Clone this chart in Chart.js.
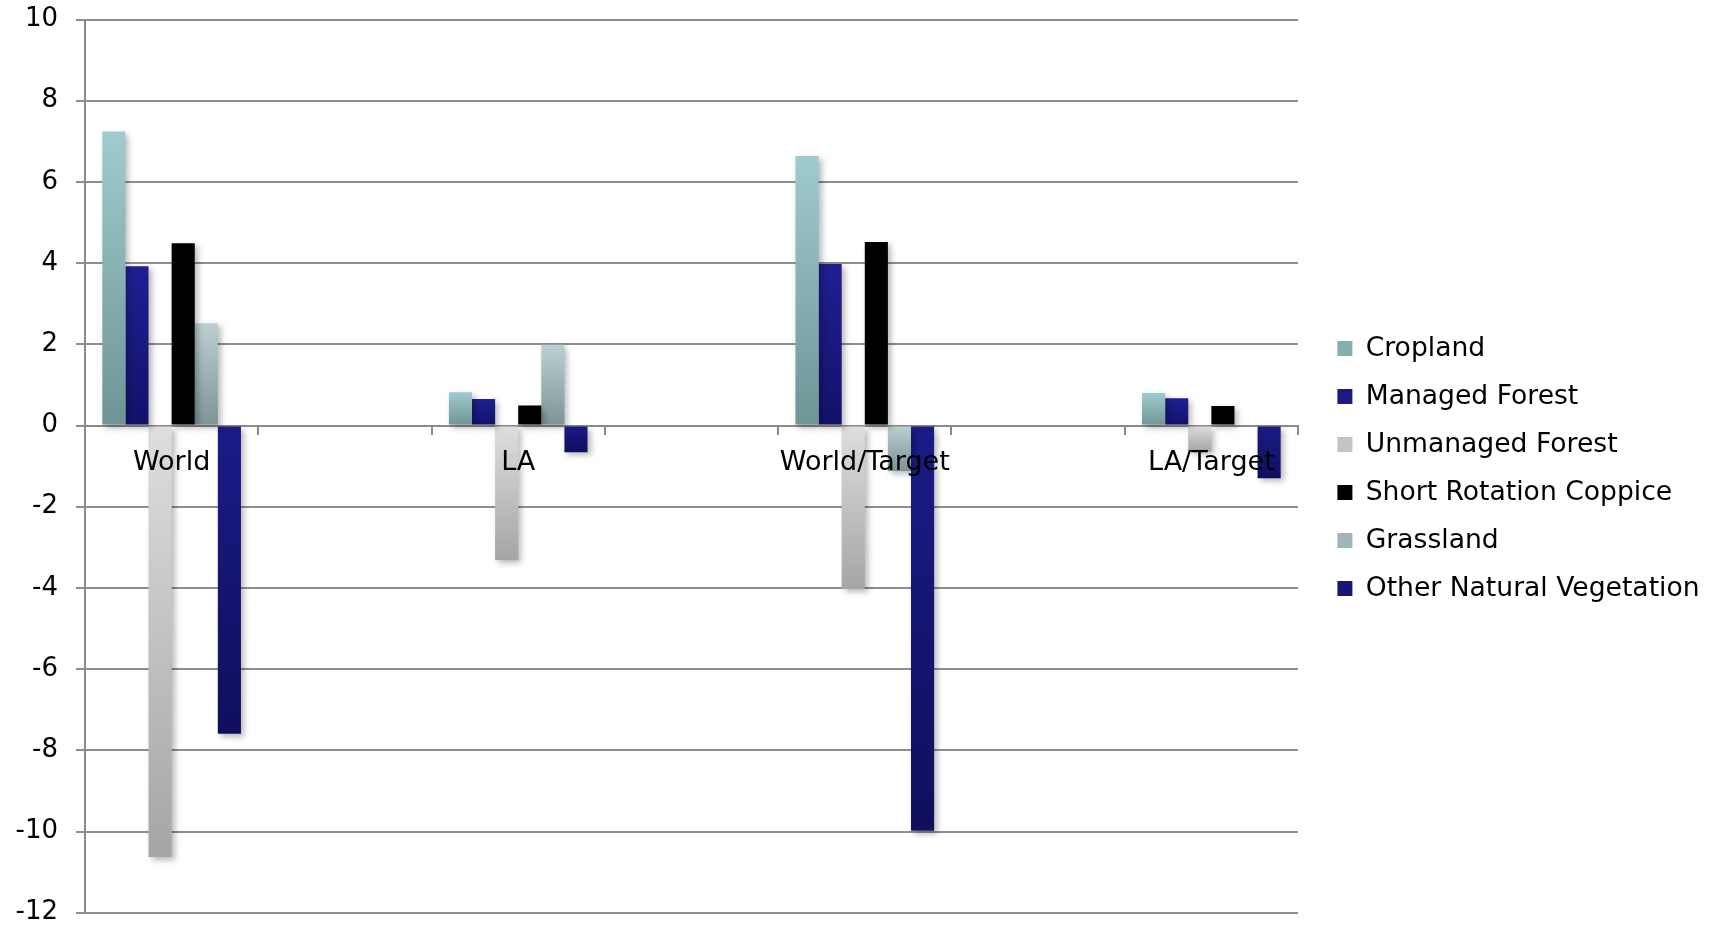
<!DOCTYPE html>
<html>
<head>
<meta charset="utf-8">
<script src="https://cdn.jsdelivr.net/npm/chart.js@4/dist/chart.umd.min.js"></script>
<style>
  html, body { margin: 0; padding: 0; background: #ffffff; }
  #wrap { width: 1710px; height: 926px; }
</style>
</head>
<body>
<div id="wrap"><canvas id="chart" width="1710" height="926"></canvas></div>
<script>
// Regions; the empty entries leave a spacer slot between groups
const categories = ['World', '', 'LA', '', 'World/Target', '', 'LA/Target'];

// Land-use change per region
const cropland         = [7.24, null, 0.82, null, 6.64, null, 0.80];
const managedForest    = [3.92, null, 0.65, null, 3.98, null, 0.67];
const unmanagedForest  = [-10.63, null, -3.31, null, -4.03, null, -0.64];
const shortRotation    = [4.49, null, 0.49, null, 4.52, null, 0.48];
const grassland        = [2.52, null, 1.99, null, -1.12, null, 0];
const otherNatural     = [-7.59, null, -0.66, null, -9.98, null, -1.30];

const yTicks = [10, 8, 6, 4, 2, 0, -2, -4, -6, -8, -10, -12];

// Vertical gradient spanning each bar from its top edge to its bottom edge
function barFill(topColor, bottomColor) {
  return function (ctx) {
    if (ctx.type !== 'data') return bottomColor;
    const chart = ctx.chart;
    const v = ctx.raw;
    if (v === null || v === undefined) return topColor;
    const ys = chart.scales.y;
    if (!ys || !chart.chartArea) return topColor;
    const p0 = ys.getPixelForValue(0);
    const p1 = ys.getPixelForValue(v);
    const top = Math.min(p0, p1), bottom = Math.max(p0, p1);
    if (!isFinite(top) || !isFinite(bottom) || bottom - top < 0.5) return topColor;
    const g = chart.ctx.createLinearGradient(0, top, 0, bottom);
    g.addColorStop(0, topColor);
    g.addColorStop(1, bottomColor);
    return g;
  };
}

const series = [
  { label: 'Cropland', data: cropland, top: '#a0cbce', bottom: '#6e9496', swatch: '#86afb1' },
  { label: 'Managed Forest', data: managedForest, top: '#1f1f92', bottom: '#12126a', swatch: '#1a1a80' },
  { label: 'Unmanaged Forest', data: unmanagedForest, top: '#dedede', bottom: '#a5a5a5', swatch: '#c4c4c4' },
  { label: 'Short Rotation Coppice', data: shortRotation, top: '#000000', bottom: '#000000', swatch: '#000000' },
  { label: 'Grassland', data: grassland, top: '#bcd0d3', bottom: '#7d9395', swatch: '#a0b5b7' },
  { label: 'Other Natural Vegetation', data: otherNatural, top: '#1b1b88', bottom: '#0f0f5c', swatch: '#161675' }
];

// Soft drop shadow under the bars
const barShadow = {
  id: 'barShadow',
  beforeDatasetsDraw(chart) {
    const c = chart.ctx;
    c.save();
    c.shadowColor = 'rgba(0,0,0,0.28)';
    c.shadowBlur = 6;
    c.shadowOffsetX = 3;
    c.shadowOffsetY = 3;
  },
  afterDatasetsDraw(chart) {
    chart.ctx.restore();
  }
};

// Fixed legend column width, with the swatches set a little in from the plot edge
const LEGEND_WIDTH = 404;
const LEGEND_INSET = 18;
const LEGEND_DROP = 2.5;
const legendPlacement = {
  id: 'legendPlacement',
  beforeLayout(chart) {
    const lg = chart.legend;
    if (lg && !lg._fixedFit) {
      const baseFit = lg.fit;
      lg.fit = function () {
        baseFit.call(this);
        this.width = LEGEND_WIDTH;
      };
      lg._fixedFit = true;
    }
  },
  afterLayout(chart) {
    const lg = chart.legend;
    if (lg) {
      lg.left += LEGEND_INSET;
      lg.right += LEGEND_INSET;
      lg.top += LEGEND_DROP;
      lg.bottom += LEGEND_DROP;
    }
  }
};

const FONT = "'DejaVu Sans', Verdana, sans-serif";

new Chart(document.getElementById('chart'), {
  type: 'bar',
  data: {
    labels: categories,
    datasets: series.map(s => ({
      label: s.label,
      data: s.data,
      backgroundColor: barFill(s.top, s.bottom),
      borderWidth: 0,
      categoryPercentage: 0.8,
      barPercentage: 1.0,
      swatch: s.swatch
    }))
  },
  options: {
    responsive: false,
    animation: false,
    devicePixelRatio: 1,
    layout: { padding: { top: 19.5, bottom: 13.3, left: 0, right: 8 } },
    plugins: {
      tooltip: { enabled: false },
      legend: {
        position: 'right',
        align: 'center',
        labels: {
          font: { family: FONT, size: 26.6 },
          color: '#000000',
          boxWidth: 15,
          boxHeight: 15,
          padding: 21.4,
          generateLabels(chart) {
            return chart.data.datasets.map((ds, i) => ({
              text: ds.label,
              fillStyle: ds.swatch,
              strokeStyle: 'rgba(0,0,0,0)',
              lineWidth: 0,
              hidden: false,
              datasetIndex: i,
              fontColor: '#000000'
            }));
          }
        }
      }
    },
    scales: {
      x: {
        position: { y: 0 },
        offset: true,
        afterFit(scale) {
          scale.paddingLeft = 0; scale.paddingRight = 0;
          scale.paddingTop = 0; scale.paddingBottom = 0;
        },
        grid: {
          offset: true,
          drawOnChartArea: false,
          drawTicks: true,
          tickLength: 8,
          color: '#8a8a8a',
          lineWidth: 2
        },
        border: { display: true, color: '#8a8a8a', width: 2 },
        ticks: {
          z: 1,
          font: { family: FONT, size: 27 },
          color: '#000000',
          padding: 13,
          maxRotation: 0,
          autoSkip: false
        }
      },
      y: {
        min: -12,
        max: 10,
        afterFit(scale) {
          scale.width = 85;
          scale.paddingTop = 0; scale.paddingBottom = 0;
        },
        afterBuildTicks(scale) { scale.ticks = yTicks.slice().reverse().map(v => ({ value: v })); },
        grid: {
          color: '#8e8e8e',
          lineWidth: 2,
          tickLength: 9,
          drawTicks: true
        },
        border: { display: true, color: '#8a8a8a', width: 2 },
        ticks: {
          font: { family: FONT, size: 26 },
          color: '#000000',
          padding: 18
        }
      }
    }
  },
  plugins: [barShadow, legendPlacement]
});
</script>
</body>
</html>
